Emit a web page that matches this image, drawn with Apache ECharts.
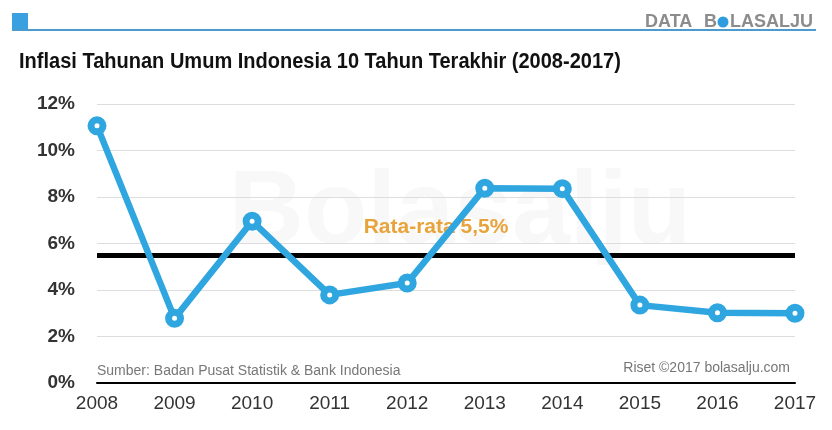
<!DOCTYPE html>
<html>
<head>
<meta charset="utf-8">
<script src="https://cdn.jsdelivr.net/npm/echarts@6/dist/echarts.min.js"></script>
<style>html,body{margin:0;padding:0;background:#fff;}#c{width:832px;height:430px;}</style>
</head>
<body>
<div id="c"></div>
<script>
var years = ['2008','2009','2010','2011','2012','2013','2014','2015','2016','2017'];
var inflation = [11.06, 2.78, 6.96, 3.79, 4.30, 8.38, 8.36, 3.35, 3.02, 3.0];
var average = 5.5;
var averageLabel = 'Rata-rata 5,5%';
var yTicks = [0, 2, 4, 6, 8, 10, 12];

var chart = echarts.init(document.getElementById('c'));
chart.setOption({
  backgroundColor: '#fff',
  animation: false,
  grid: { left: 97, right: 37, top: 104, bottom: 47 },
  xAxis: {
    type: 'category',
    data: years,
    boundaryGap: false,
    axisLine: { show: true, lineStyle: { color: '#000', width: 2 } },
    axisTick: { show: false },
    axisLabel: { color: '#333', fontSize: 19, fontFamily: 'Arial, sans-serif', margin: 11 }
  },
  yAxis: {
    type: 'value',
    min: yTicks[0],
    max: yTicks[yTicks.length - 1],
    interval: 2,
    axisLine: { show: false },
    axisTick: { show: false },
    splitLine: { lineStyle: { color: '#dddddd', width: 1 } },
    axisLabel: { color: '#333', fontSize: 19, fontWeight: 'bold', fontFamily: 'Arial, sans-serif', margin: 22, formatter: '{value}%' }
  },
  graphic: [
    { type: 'rect', shape: { x: 12, y: 13, width: 16, height: 17 }, style: { fill: '#3aa0e0' } },
    { type: 'rect', shape: { x: 12, y: 29, width: 804, height: 2 }, style: { fill: '#4c9bcf' } },
    { type: 'text', x: 645, y: 22, style: { text: 'DATA', fill: '#8c8c8c', font: 'bold 18px Arial, sans-serif', verticalAlign: 'middle' } },
    { type: 'text', x: 704, y: 22, style: { text: 'B', fill: '#8c8c8c', font: 'bold 18px Arial, sans-serif', verticalAlign: 'middle' } },
    { type: 'circle', shape: { cx: 723, cy: 22, r: 5.5 }, style: { fill: '#2e9ddf' } },
    { type: 'text', x: 730, y: 22, style: { text: 'LASALJU', fill: '#8c8c8c', font: 'bold 18px Arial, sans-serif', verticalAlign: 'middle' } },
    { type: 'text', x: 19, y: 62, scaleX: 0.91, style: { x: 0, y: 0, text: 'Inflasi Tahunan Umum Indonesia 10 Tahun Terakhir (2008-2017)', fill: '#111', font: 'bold 22px Arial, sans-serif', verticalAlign: 'middle' } },
    { type: 'text', x: 460, y: 214, z: -1, silent: true, style: { x: 0, y: 0, text: 'Bolasalju', fill: '#f8f8f8', font: 'bold 104px Arial, sans-serif', align: 'center', verticalAlign: 'middle' } },
    { type: 'text', x: 97, y: 371, style: { text: 'Sumber: Badan Pusat Statistik & Bank Indonesia', fill: '#777', font: '14px Arial, sans-serif', verticalAlign: 'middle' } },
    { type: 'text', x: 790, y: 368, style: { text: 'Riset \u00a92017 bolasalju.com', fill: '#777', font: '14px Arial, sans-serif', align: 'right', verticalAlign: 'middle' } }
  ],
  series: [{
    type: 'line',
    data: inflation,
    z: 5,
    lineStyle: { color: '#2fa6df', width: 6.5 },
    symbol: 'circle',
    symbolSize: 12,
    itemStyle: { color: '#fff', borderColor: '#2fa6df', borderWidth: 7 },
    markLine: {
      silent: true,
      symbol: 'none',
      z: 3,
      data: [{ yAxis: average }],
      lineStyle: { color: '#000', width: 5, type: 'solid' },
      label: {
        show: true,
        position: 'insideMiddleTop',
        distance: 17,
        formatter: averageLabel,
        color: '#e8a43a',
        fontSize: 21,
        fontWeight: 'bold',
        fontFamily: 'Arial, sans-serif',
        offset: [-10, 0]
      }
    }
  }]
});
</script>
</body>
</html>
